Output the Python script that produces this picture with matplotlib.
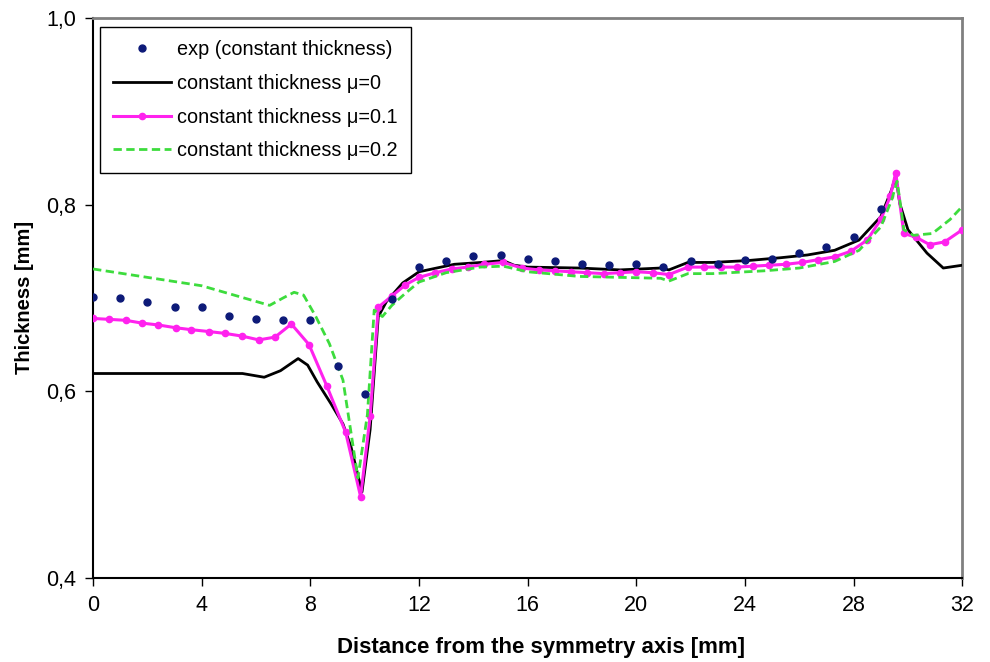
import matplotlib
matplotlib.use("Agg")
import matplotlib.pyplot as plt
from matplotlib.ticker import FuncFormatter

plt.rcParams['font.family'] = ['Liberation Sans', 'DejaVu Sans']

# experimental points (constant thickness)
exp_x = list(range(0, 30))
exp_y = [0.701, 0.700, 0.696, 0.690, 0.690, 0.681, 0.677, 0.676, 0.676, 0.627,
         0.597, 0.699, 0.733, 0.739, 0.745, 0.746, 0.742, 0.739, 0.736, 0.735,
         0.736, 0.733, 0.739, 0.736, 0.741, 0.742, 0.748, 0.754, 0.765, 0.795]

# mu = 0
mu0_x = [0.0, 2.0, 4.0, 5.5, 6.3, 6.9, 7.55, 7.9, 8.25, 8.75, 9.2, 9.5, 9.9,
         10.2, 10.5, 10.8, 11.4, 12.0, 13.3, 14.3, 15.1, 15.5, 16.0, 17.9, 19.4,
         20.9, 21.2, 21.9, 22.8, 24.1, 25.3, 26.3, 27.3, 28.2, 29.0, 29.4, 29.55,
         29.7, 30.0, 30.7, 31.3, 32.0]
mu0_y = [0.619, 0.619, 0.619, 0.619, 0.615, 0.622, 0.635, 0.628, 0.610, 0.587, 0.565, 0.540, 0.492,
         0.559, 0.680, 0.696, 0.716, 0.728, 0.736, 0.738, 0.740, 0.735, 0.733, 0.732, 0.730,
         0.732, 0.730, 0.738, 0.738, 0.740, 0.743, 0.746, 0.751, 0.762, 0.787, 0.816, 0.831,
         0.801, 0.773, 0.748, 0.732, 0.735]

# mu = 0.1
mu1_x = [0.0, 0.6, 1.2, 1.8, 2.4, 3.05, 3.6, 4.25, 4.85, 5.5, 6.1, 6.7, 7.3, 7.95,
         8.6, 9.3, 9.85, 10.2, 10.5, 11.0, 11.5, 12.0, 12.6, 13.2, 13.8, 14.4, 15.1,
         15.8, 16.4, 17.0, 17.6, 18.2, 18.8, 19.4, 20.0, 20.6, 21.2, 21.9, 22.5, 23.1,
         23.7, 24.3, 24.9, 25.5, 26.1, 26.7, 27.3, 27.9, 28.5, 29.0, 29.35, 29.55,
         29.85, 30.3, 30.8, 31.35, 32.0]
mu1_y = [0.678, 0.677, 0.676, 0.673, 0.671, 0.668, 0.666, 0.664, 0.662, 0.659, 0.655, 0.658, 0.672, 0.650,
         0.606, 0.556, 0.487, 0.573, 0.690, 0.702, 0.714, 0.722, 0.727, 0.731, 0.733, 0.736, 0.738,
         0.732, 0.730, 0.729, 0.728, 0.727, 0.726, 0.727, 0.728, 0.727, 0.725, 0.733, 0.733, 0.733,
         0.733, 0.734, 0.735, 0.736, 0.738, 0.741, 0.744, 0.750, 0.762, 0.784, 0.809, 0.834,
         0.769, 0.765, 0.757, 0.760, 0.773]

# mu = 0.2
mu2_x = [0.0, 2.0, 4.0, 6.5, 7.0, 7.4, 7.75, 8.2, 8.7, 9.2, 9.5, 9.75, 10.1, 10.35,
         10.65, 11.0, 11.5, 12.0, 13.0, 14.25, 15.1, 16.0, 17.9, 19.4, 20.9, 21.2,
         21.9, 22.8, 24.7, 26.0, 27.3, 28.2, 29.0, 29.4, 29.6, 29.7, 29.85, 30.2,
         30.9, 31.55, 32.0]
mu2_y = [0.731, 0.722, 0.713, 0.692, 0.700, 0.706, 0.703, 0.680, 0.651, 0.612, 0.555, 0.507, 0.575, 0.687,
         0.680, 0.692, 0.705, 0.717, 0.727, 0.733, 0.734, 0.728, 0.723, 0.722, 0.721, 0.718,
         0.726, 0.726, 0.729, 0.732, 0.739, 0.751, 0.776, 0.805, 0.825, 0.805, 0.773, 0.767,
         0.769, 0.784, 0.798]

fig = plt.figure(figsize=(9.9, 6.62), dpi=100)
ax = fig.add_axes([0.094, 0.127, 0.878, 0.846])

ax.plot(exp_x, exp_y, linestyle='none', marker='o', markersize=5, color='#0d1a78',
        label='exp (constant thickness)', zorder=5)
ax.plot(mu0_x, mu0_y, color='black', linewidth=2, label='constant thickness \u03bc=0', zorder=3)
ax.plot(mu1_x, mu1_y, color='#ff22ee', linewidth=2.2, marker='o', markersize=4.5,
        label='constant thickness \u03bc=0.1', zorder=4)
ax.plot(mu2_x, mu2_y, color='#3ddc3d', linewidth=2, linestyle=(0, (3, 1.6)),
        label='constant thickness \u03bc=0.2', zorder=4)

ax.set_xlim(0, 32)
ax.set_ylim(0.4, 1.0)
ax.set_xticks(range(0, 33, 4))
ax.set_yticks([0.4, 0.6, 0.8, 1.0])
ax.yaxis.set_major_formatter(FuncFormatter(lambda v, p: f"{v:.1f}".replace('.', ',')))
ax.tick_params(axis='both', direction='out', length=6, width=1, labelsize=15.5, pad=6)

for side in ['left', 'bottom']:
    ax.spines[side].set_linewidth(1.5)
    ax.spines[side].set_color('black')
for side in ['top', 'right']:
    ax.spines[side].set_linewidth(2)
    ax.spines[side].set_color('#808080')

ax.set_xlabel('Distance from the symmetry axis [mm]', fontsize=16, fontweight='bold')
ax.xaxis.set_label_coords(0.5155, -0.106)
ax.set_ylabel('Thickness [mm]', fontsize=14.5, fontweight='bold', labelpad=9)

leg = ax.legend(loc='upper left', bbox_to_anchor=(0.008, 0.984), borderaxespad=0,
                frameon=True, fancybox=False, edgecolor='black', framealpha=1,
                handlelength=2.9, handletextpad=0.35, labelspacing=0.75,
                borderpad=0.65, prop={'family': 'Liberation Sans', 'size': 14.3})
leg.get_frame().set_linewidth(1)

fig.savefig('out.png', dpi=100)
